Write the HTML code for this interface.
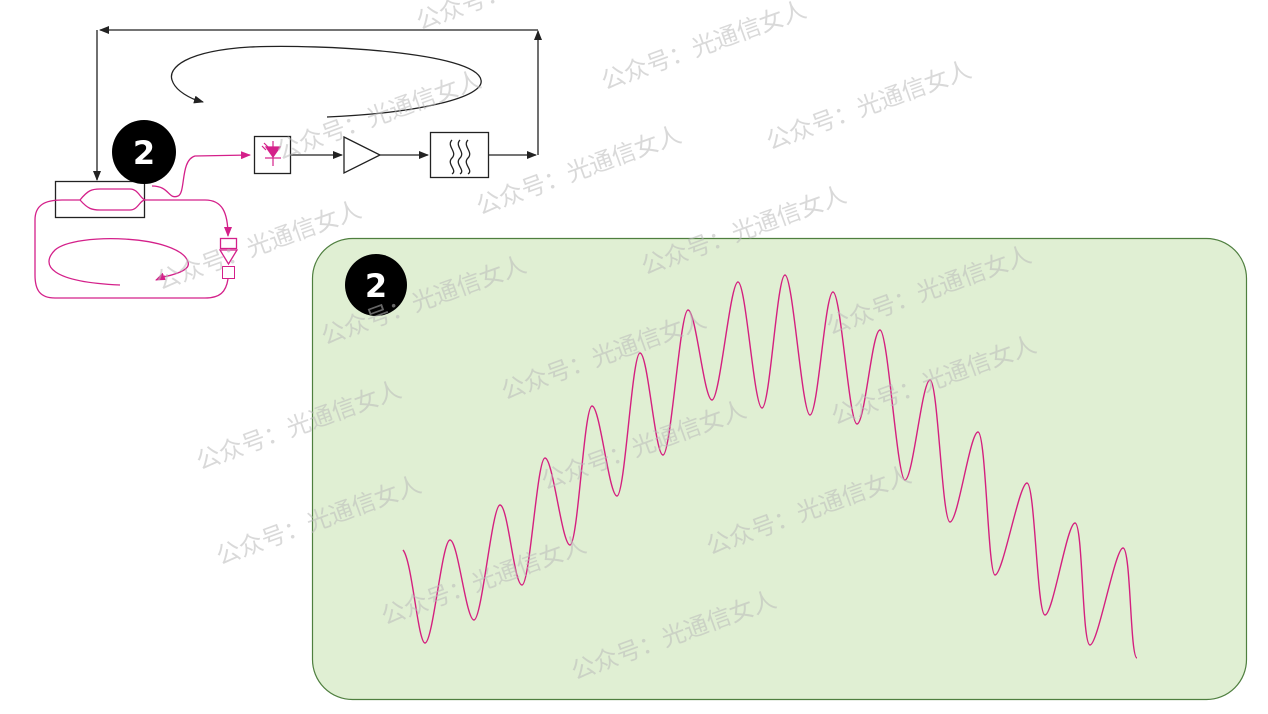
<!DOCTYPE html>
<html><head><meta charset="utf-8">
<style>
html,body{margin:0;padding:0;background:#fff;}
body{width:1268px;height:714px;overflow:hidden;position:relative;}
svg{position:absolute;left:0;top:0;}
.wm{font-family:"Liberation Sans","Noto Sans CJK SC",sans-serif;font-size:24px;fill:#bbb;opacity:0.55;}
</style></head><body>
<svg width="1268" height="714" viewBox="0 0 1268 714" xmlns="http://www.w3.org/2000/svg">
<defs>
<marker id="ak" markerWidth="10" markerHeight="8" refX="9" refY="4" orient="auto" markerUnits="userSpaceOnUse"><path d="M0,0 L10,4 L0,8 Z" fill="#222"/></marker>
<marker id="ap" markerWidth="10" markerHeight="8" refX="9" refY="4" orient="auto" markerUnits="userSpaceOnUse"><path d="M0,0 L10,4 L0,8 Z" fill="#d4208a"/></marker>
</defs>

<rect x="312.5" y="238.5" width="934" height="461" rx="40" fill="#e0efd3" stroke="#4f7f3f" stroke-width="1.2"/>
<circle cx="376" cy="285" r="31" fill="#000"/>
<text x="376" y="297" text-anchor="middle" font-family="DejaVu Sans,Liberation Sans,sans-serif" font-weight="bold" font-size="32" fill="#fff">2</text>

<path fill="none" stroke="#d4207f" stroke-width="1.4" d="M403,550 C412,560 418,643 425,643 C433,643 442,540 450,540 C458,540 466,620 474,620 C482,620 492,505 500,505 C508,505 514,585 522,585 C530,585 537,458 545,458 C553,458 562,545 570,545 C578,545 584,406 592,406 C600,406 609,496 617,496 C625,496 632,353 640,353 C648,353 655,455 663,455 C671,455 680,310 688,310 C696,310 704,400 712,400 C720,400 730,282 738,282 C746,282 754,408 762,408 C770,408 777,275 785,275 C793,275 802,415 810,415 C818,415 825,292 833,292 C841,292 849,424 857,424 C865,424 872,330 880,330 C888,330 897,480 905,480 C913,480 922,380 930,380 C938,380 942,522 950,522 C958,522 970,432 978,432 C986,432 988,575 995,575 C1003,575 1019,483 1027,483 C1035,483 1037,615 1045,615 C1053,615 1067,523 1075,523 C1083,523 1082,645 1090,645 C1098,645 1115,548 1123,548 C1131,548 1130,658 1137,658"/>

<g stroke="#222" stroke-width="1.3" fill="none">
<line x1="538" y1="30" x2="100" y2="30" marker-end="url(#ak)"/>
<line x1="97" y1="30" x2="97" y2="180" marker-end="url(#ak)"/>
<line x1="538" y1="155" x2="538" y2="31" marker-end="url(#ak)"/>
<path d="M327,117 C420,113 485,97 481,80 C476,52 320,44 250,47 C185,51 168,68 172,80 C175,90 188,97 198,101"/>
<line x1="196" y1="100" x2="203" y2="102" marker-end="url(#ak)"/>
<rect x="55.5" y="181.5" width="89" height="36"/>
<rect x="254.5" y="136.5" width="36" height="37"/>
<line x1="291" y1="155" x2="342" y2="155" marker-end="url(#ak)"/>
<path d="M344,137 L380,155 L344,173 Z"/>
<line x1="380" y1="155" x2="428" y2="155" marker-end="url(#ak)"/>
<rect x="430.5" y="132.5" width="58" height="45"/>
<path d="M452,140 c-6,6 6,12 0,18 c-6,6 6,12 0,16 M460,140 c-6,6 6,12 0,18 c-6,6 6,12 0,16 M468,140 c-6,6 6,12 0,18 c-6,6 6,12 0,16"/>
<line x1="488" y1="155" x2="536" y2="155" marker-end="url(#ak)"/>
</g>
<g fill="#d4208a" stroke="#d4208a" stroke-width="1.2">
<path d="M266,147 L280,147 L273,157 Z"/>
<line x1="265" y1="158" x2="281" y2="158"/>
<line x1="273" y1="141" x2="273" y2="166"/>
<line x1="262" y1="146" x2="266" y2="150"/>
<line x1="264" y1="143" x2="268" y2="147"/>
</g>

<circle cx="144" cy="152" r="32" fill="#000"/>
<text x="144" y="164" text-anchor="middle" font-family="DejaVu Sans,Liberation Sans,sans-serif" font-weight="bold" font-size="32" fill="#fff">2</text>

<g stroke="#d4208a" stroke-width="1.3" fill="none">
<path d="M152,186 C170,186 168,200 178,196 C186,193 180,160 195,156 L250,155" marker-end="url(#ap)"/>
<path d="M62,200 L80,200 C88,190 92,189 100,189 L130,189 C138,189 140,198 145,200 M80,200 C88,209 92,210 100,210 L130,210 C138,210 140,200 145,200"/>
<path d="M145,200 L205,200 C222,200 228,212 228,236" marker-end="url(#ap)"/>
<rect x="220.5" y="238.5" width="16" height="10"/>
<path d="M220,250 L237,250 L228.5,264 Z"/>
<rect x="222.5" y="266.5" width="12" height="12" stroke-width="1"/>
<path d="M228,279 C226,292 220,298 205,298 L55,298 C40,298 35,290 35,275 L35,220 C35,205 45,200 62,200"/>
<path d="M120,285 C50,282 40,265 55,250 C75,232 180,235 188,262 C191,270 175,275 158,278"/>
<path d="M165,276 L156,280" marker-end="url(#ap)"/>
</g>

<g class="wm">
<text transform="translate(420,30) rotate(-20)">公众号：光通信女人</text>
<text transform="translate(605,90) rotate(-20)">公众号：光通信女人</text>
<text transform="translate(280,160) rotate(-20)">公众号：光通信女人</text>
<text transform="translate(770,150) rotate(-20)">公众号：光通信女人</text>
<text transform="translate(480,215) rotate(-20)">公众号：光通信女人</text>
<text transform="translate(160,290) rotate(-20)">公众号：光通信女人</text>
<text transform="translate(645,275) rotate(-20)">公众号：光通信女人</text>
<text transform="translate(325,345) rotate(-20)">公众号：光通信女人</text>
<text transform="translate(830,335) rotate(-20)">公众号：光通信女人</text>
<text transform="translate(505,400) rotate(-20)">公众号：光通信女人</text>
<text transform="translate(835,425) rotate(-20)">公众号：光通信女人</text>
<text transform="translate(200,470) rotate(-20)">公众号：光通信女人</text>
<text transform="translate(545,490) rotate(-20)">公众号：光通信女人</text>
<text transform="translate(220,565) rotate(-20)">公众号：光通信女人</text>
<text transform="translate(710,555) rotate(-20)">公众号：光通信女人</text>
<text transform="translate(385,625) rotate(-20)">公众号：光通信女人</text>
<text transform="translate(575,680) rotate(-20)">公众号：光通信女人</text>
</g>
</svg>
</body></html>
